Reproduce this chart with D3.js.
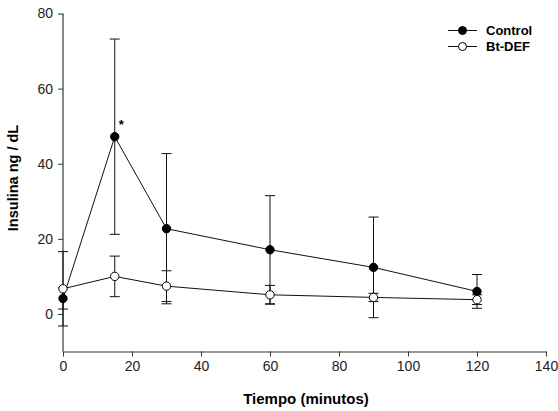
<!DOCTYPE html>
<html><head><meta charset="utf-8">
<script src="https://cdn.jsdelivr.net/npm/d3@7"></script>
<style>body{margin:0;background:#fff}svg{display:block}text{font-family:"Liberation Sans",Arial,sans-serif}</style>
</head><body>
<svg id="c" width="558" height="411"></svg>
<script>
const times = [0, 15, 30, 60, 90, 120];
const controlMean = [4.1, 47.2, 22.7, 17.1, 12.4, 6.0];
const controlErr  = [2.8, 26.0, 20.0, 14.4, 13.4, 4.5];
const btMean = [6.7, 10.0, 7.4, 5.1, 4.4, 3.8];
const btErr  = [9.9, 5.4, 4.1, 2.5, 1.1, 1.3];
const xTicks = [0, 20, 40, 60, 80, 100, 120, 140];
const yTicks = [0, 20, 40, 60, 80];
const seriesNames = ["Control", "Bt-DEF"];

const svg = d3.select("#c");
const x = d3.scaleLinear().domain([0, 140]).range([63, 546]);
const y = d3.scaleLinear().domain([-10, 80]).range([351.5, 13.5]);

const xAxis = svg.append("g").attr("transform", "translate(0,351.5)")
  .call(d3.axisBottom(x).tickValues(xTicks).tickSize(5).tickPadding(5).tickSizeOuter(0));
const yAxis = svg.append("g").attr("transform", "translate(63,0)")
  .call(d3.axisLeft(y).tickValues(yTicks).tickSize(5).tickPadding(5).tickSizeOuter(0));
[xAxis, yAxis].forEach(a => {
  a.select(".domain").attr("stroke", "#333").attr("stroke-width", 1.2);
  a.selectAll(".tick line").attr("stroke", "#333");
  a.selectAll("text").attr("font-size", 14).attr("fill", "#222").style("font-family", '"Liberation Sans",Arial,sans-serif');
});
yAxis.select(".domain").attr("d", `M0,${y(80)}V${y(-10)}`);

svg.append("text").attr("x", 306).attr("y", 404).attr("text-anchor", "middle")
  .attr("font-size", 15).attr("font-weight", "bold").text("Tiempo (minutos)");
svg.append("text").attr("transform", "translate(18,178) rotate(-90)").attr("text-anchor", "middle")
  .attr("font-size", 14.5).attr("font-weight", "bold").text("Insulina ng / dL");

const series = [
  {name: seriesNames[0], mean: controlMean, err: controlErr, fill: "#000"},
  {name: seriesNames[1], mean: btMean, err: btErr, fill: "#fff"}
];
const line = d3.line().x((d, i) => x(times[i])).y(d => y(d));

series.forEach(s => {
  const g = svg.append("g");
  s.mean.forEach((m, i) => {
    const cx = x(times[i]);
    const lo = y(m - s.err[i]), hi = y(m + s.err[i]);
    g.append("line").attr("x1", cx).attr("x2", cx).attr("y1", lo).attr("y2", hi).attr("stroke", "#111").attr("stroke-width", 1);
    [lo, hi].forEach(yy => g.append("line").attr("x1", cx - 5).attr("x2", cx + 5).attr("y1", yy).attr("y2", yy).attr("stroke", "#111").attr("stroke-width", 1));
  });
});
series.forEach(s => {
  svg.append("path").attr("d", line(s.mean)).attr("fill", "none").attr("stroke", "#111").attr("stroke-width", 1);
});
series.forEach(s => {
  svg.append("g").selectAll("circle").data(s.mean).join("circle")
    .attr("cx", (d, i) => x(times[i])).attr("cy", d => y(d)).attr("r", 4.2)
    .attr("fill", s.fill).attr("stroke", "#000").attr("stroke-width", 1);
});

svg.append("text").attr("x", x(15) + 4).attr("y", y(47.2) - 8).attr("font-size", 13).attr("font-weight", "bold").text("*");

series.forEach((s, i) => {
  const ly = 30.5 + i * 16;
  svg.append("line").attr("x1", 448).attr("x2", 477).attr("y1", ly).attr("y2", ly).attr("stroke", "#111");
  svg.append("circle").attr("cx", 462.5).attr("cy", ly).attr("r", 4).attr("fill", s.fill).attr("stroke", "#000");
  svg.append("text").attr("x", 486).attr("y", ly + 4.5).attr("font-size", 13).attr("font-weight", "bold").text(s.name);
});
</script>
</body></html>
